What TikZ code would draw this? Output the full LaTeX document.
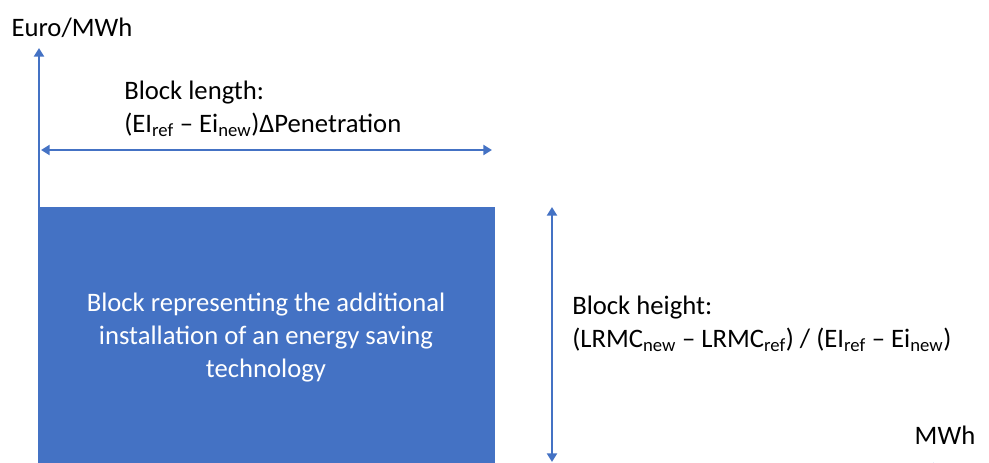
\documentclass[tikz,border=0pt]{standalone}
\usepackage{fontspec}
\setmainfont{Carlito}
\usepackage{tikz}
\usetikzlibrary{arrows.meta,positioning}
\definecolor{bleu}{RGB}{68,114,196}

\begin{document}
\begin{tikzpicture}[x=0.75pt,y=-0.75pt,
  fleche/.style={bleu,line width=2.2pt,-{Triangle[length=6.5pt,width=7.5pt]}},
  dfleche/.style={fleche,{Triangle[length=6.5pt,width=7.5pt]}-{Triangle[length=6.5pt,width=7.5pt]}},
  texte/.style={inner sep=0,font=\fontsize{20}{24.75}\selectfont,align=left}]
\useasboundingbox (0,0) rectangle (989,463);
\clip (0,0) rectangle (989,463);
% le bloc
\coordinate (bloc-nw) at (40,207);
\coordinate (bloc-se) at (495,475);
\fill[bleu] (bloc-nw) rectangle (bloc-se);
\node[texte,align=center,text=white](bloc) at (266,338)
     {Block representing the additional\\installation of an energy saving\\technology};
% les axes
\coordinate (O) at (39,468);
\coordinate (ytop) at (39,48);
\coordinate (xfin) at (942,468);
\draw[fleche](O) -- (ytop);
\draw[fleche](O) -- (xfin);
\node[texte,anchor=south](yaxe) at (72,38) {Euro/MWh};
\node[texte](xaxe) at (945,435) {MWh};
% longueur du bloc
\coordinate (lg-g) at (41,150);
\coordinate (lg-d) at (492,150);
\draw[dfleche](lg-g) -- (lg-d);
\node[texte,anchor=west](longueur) at (124,109)
     {Block length:\\(EI\textsubscript{ref} – Ei\textsubscript{new})ΔPenetration};
% hauteur du bloc
\coordinate (ht-h) at (552,207);
\coordinate (ht-b) at (552,462);
\draw[dfleche](ht-h) -- (ht-b);
\node[texte,anchor=west](hauteur) at (572,324)
     {Block height:\\(LRMC\textsubscript{new} – LRMC\textsubscript{ref}) / (EI\textsubscript{ref} – Ei\textsubscript{new})};
\end{tikzpicture}
\end{document}
